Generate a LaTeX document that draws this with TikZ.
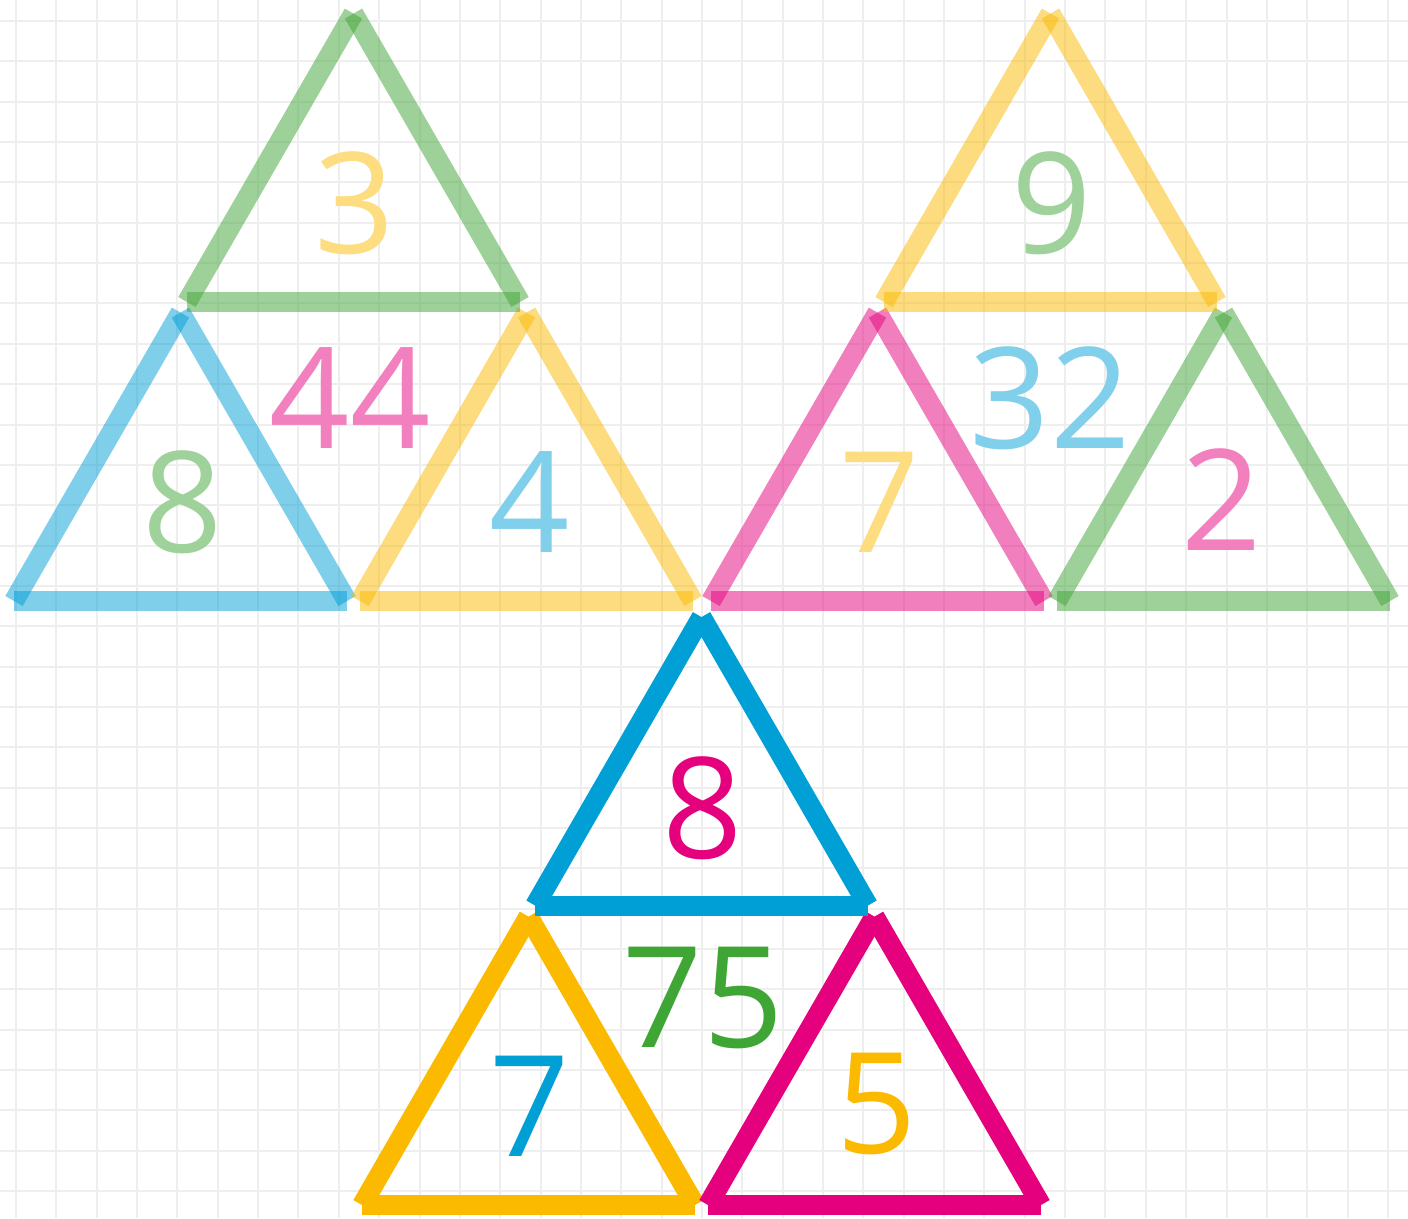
\documentclass[tikz,border=0pt]{standalone}
\usepackage{fontspec}
\setmainfont{Open Sans}
\usetikzlibrary{calc}
\definecolor{triBlue}{RGB}{0,159,214}
\definecolor{triYellow}{RGB}{251,186,0}
\definecolor{triPink}{RGB}{229,0,125}
\definecolor{triGreen}{RGB}{63,165,53}
\definecolor{gridGray}{RGB}{238,238,238}

\begin{document}
\begin{tikzpicture}[x=0.025cm, y=-0.025cm,
  gridline/.style={gridGray, line width=0.05cm},
  edge/.style={line width=0.5cm, line cap=butt},
  num/.style={inner sep=0pt, font=\fontsize{100}{100}\selectfont}]

  \fill[white] (0,0) rectangle (1408,1218);
  \useasboundingbox (0,0) rectangle (1408,1218);

  % squared paper
  \foreach \i in {0,...,34}
    \draw[gridline] (16+40.35*\i,0) -- (16+40.35*\i,1218);
  \foreach \j in {0,...,29}
    \draw[gridline] (0,21+40.35*\j) -- (1408,21+40.35*\j);

  % triangles: name/colour/opacity/bottom-left corner
  \foreach \n/\c/\o/\px/\py in {
      lb/triBlue/0.5/14/601, ly/triYellow/0.5/360/601, lg/triGreen/0.5/187/302,
      rp/triPink/0.5/711/601, rg/triGreen/0.5/1057/601, ry/triYellow/0.5/884/302,
      by/triYellow/1/362/1205, bp/triPink/1/708/1205, bb/triBlue/1/535/905.5} {
    \coordinate (\n-l) at (\px,\py);
    \coordinate (\n-r) at ($(\n-l)+(333,0)$);
    \coordinate (\n-t) at ($(\n-l)+(166.5,-288.4)$);
    \draw[edge, \c, opacity=\o] (\n-l) -- (\n-r);
    \draw[edge, \c, opacity=\o] (\n-l) -- (\n-t);
    \draw[edge, \c, opacity=\o] (\n-t) -- (\n-r);
  }

  % left pyramid
  \node[num, text=triYellow!50] (lTop) at (355,203) {3};
  \node[num, text=triPink!50] (lSum) at (350,398) {44};
  \node[num, text=triGreen!50] (lLeft) at (183,502) {8};
  \node[num, text=triBlue!50] (lRight) at (530,502) {4};

  % right pyramid
  \node[num, text=triGreen!50] (rTop) at (1052,203) {9};
  \node[num, text=triBlue!50] (rSum) at (1050,398) {32};
  \node[num, text=triYellow!50] (rLeft) at (880,502) {7};
  \node[num, text=triPink!50] (rRight) at (1222,500) {2};

  % bottom pyramid
  \node[num, text=triPink] (bTop) at (703,808) {8};
  \node[num, text=triGreen] (bSum) at (703,998) {75};
  \node[num, text=triBlue] (bLeft) at (530,1106) {7};
  \node[num, text=triYellow] (bRight) at (877,1104) {5};
\end{tikzpicture}
\end{document}
